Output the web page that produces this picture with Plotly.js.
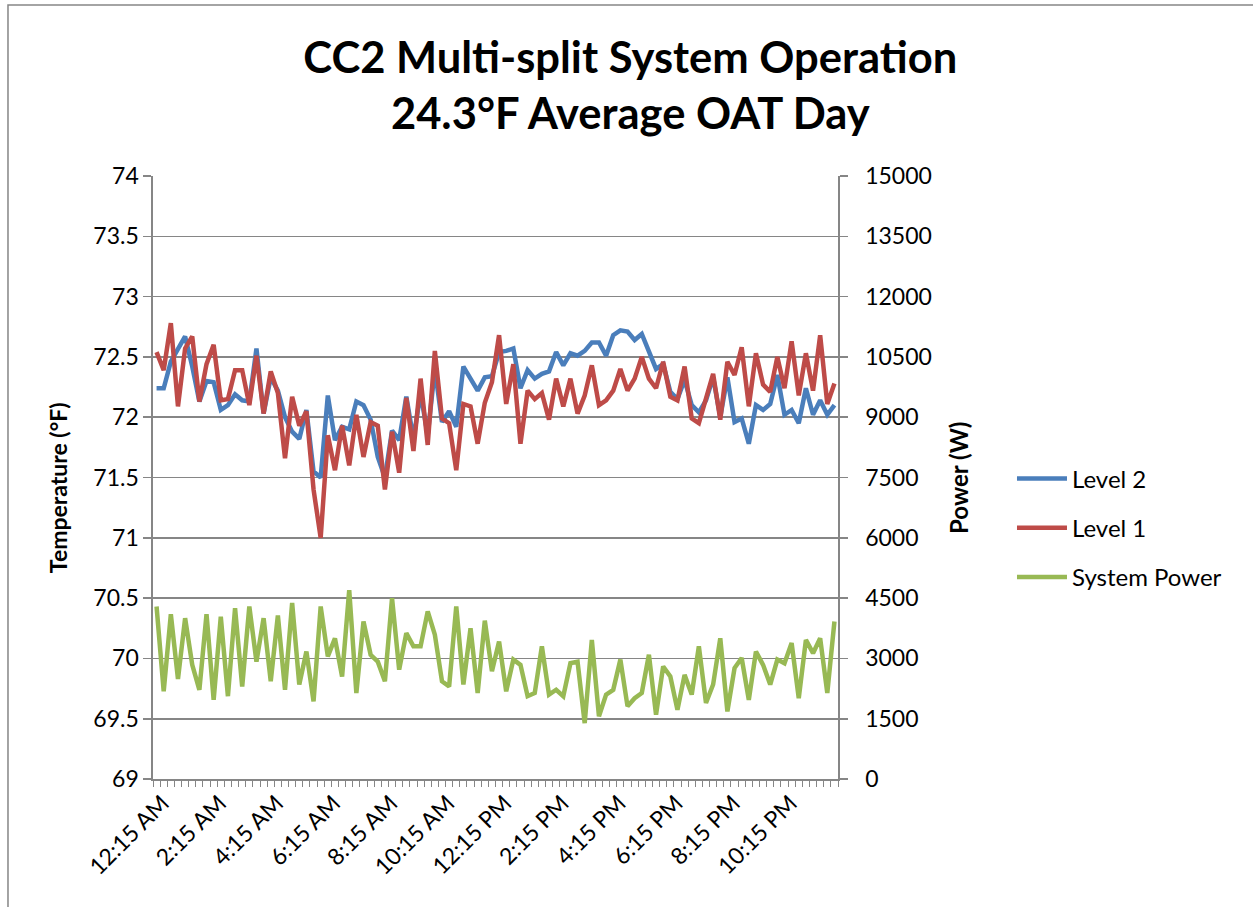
<!DOCTYPE html>
<html>
<head>
<meta charset="utf-8">
<script src="https://cdn.plot.ly/plotly-3.0.1.min.js"></script>
<style>
  html, body { margin: 0; padding: 0; background: #fff; }
  #chart { width: 1253px; height: 907px; }
</style>
</head>
<body>
<div id="chart"></div>
<script>
// ---- Data ----
const categories = [
  "12:15 AM","12:30 AM","12:45 AM","1:00 AM","1:15 AM","1:30 AM","1:45 AM","2:00 AM",
  "2:15 AM","2:30 AM","2:45 AM","3:00 AM","3:15 AM","3:30 AM","3:45 AM","4:00 AM",
  "4:15 AM","4:30 AM","4:45 AM","5:00 AM","5:15 AM","5:30 AM","5:45 AM","6:00 AM",
  "6:15 AM","6:30 AM","6:45 AM","7:00 AM","7:15 AM","7:30 AM","7:45 AM","8:00 AM",
  "8:15 AM","8:30 AM","8:45 AM","9:00 AM","9:15 AM","9:30 AM","9:45 AM","10:00 AM",
  "10:15 AM","10:30 AM","10:45 AM","11:00 AM","11:15 AM","11:30 AM","11:45 AM","12:00 PM",
  "12:15 PM","12:30 PM","12:45 PM","1:00 PM","1:15 PM","1:30 PM","1:45 PM","2:00 PM",
  "2:15 PM","2:30 PM","2:45 PM","3:00 PM","3:15 PM","3:30 PM","3:45 PM","4:00 PM",
  "4:15 PM","4:30 PM","4:45 PM","5:00 PM","5:15 PM","5:30 PM","5:45 PM","6:00 PM",
  "6:15 PM","6:30 PM","6:45 PM","7:00 PM","7:15 PM","7:30 PM","7:45 PM","8:00 PM",
  "8:15 PM","8:30 PM","8:45 PM","9:00 PM","9:15 PM","9:30 PM","9:45 PM","10:00 PM",
  "10:15 PM","10:30 PM","10:45 PM","11:00 PM","11:15 PM","11:30 PM","11:45 PM","12:00 AM"
];

const tickLabels = [
  "12:15 AM","2:15 AM","4:15 AM","6:15 AM","8:15 AM","10:15 AM",
  "12:15 PM","2:15 PM","4:15 PM","6:15 PM","8:15 PM","10:15 PM"
];

const level2 = [
  72.24,72.24,72.46,72.57,72.67,72.42,72.13,72.30,72.29,72.06,72.10,72.19,72.14,72.13,72.57,72.03,
  72.33,72.22,72.00,71.88,71.82,72.06,71.55,71.50,72.18,71.81,71.92,71.90,72.13,72.10,71.98,71.67,
  71.50,71.89,71.81,72.17,71.82,72.20,71.85,72.40,71.96,72.05,71.92,72.42,72.32,72.22,72.33,72.34,
  72.54,72.55,72.57,72.24,72.39,72.32,72.36,72.38,72.54,72.43,72.53,72.51,72.55,72.62,72.62,72.51,
  72.68,72.72,72.71,72.64,72.69,72.55,72.40,72.44,72.21,72.15,72.31,72.10,72.04,72.14,72.33,72.00,
  72.33,71.96,71.99,71.78,72.10,72.06,72.11,72.35,72.02,72.06,71.95,72.24,72.02,72.14,72.02,72.10
];

const level1 = [
  72.54,72.39,72.78,72.09,72.57,72.67,72.13,72.44,72.60,72.14,72.15,72.39,72.39,72.10,72.51,72.03,
  72.38,72.20,71.66,72.17,71.93,72.05,71.40,71.00,71.85,71.56,71.93,71.60,72.02,71.67,71.96,71.93,
  71.40,71.88,71.54,72.16,71.72,72.32,71.77,72.55,71.99,71.95,71.56,72.11,72.09,71.78,72.12,72.29,
  72.68,72.11,72.44,71.78,72.22,72.15,72.20,71.98,72.32,72.09,72.32,72.03,72.18,72.43,72.10,72.14,
  72.22,72.40,72.22,72.32,72.50,72.32,72.24,72.46,72.17,72.14,72.42,71.99,71.95,72.14,72.36,71.98,
  72.46,72.35,72.58,72.09,72.53,72.27,72.21,72.50,72.24,72.63,72.18,72.53,72.22,72.68,72.11,72.28
];

const systemPower = [
  4290,2180,4100,2490,4000,2840,2220,4100,1970,4040,2060,4250,2300,4290,2920,4000,
  2430,4070,2220,4380,2350,3170,1930,4290,3050,3500,2550,4700,2140,3920,3090,2920,
  2430,4500,2720,3630,3300,3300,4170,3590,2430,2300,4290,2350,3750,2140,3940,2680,
  3420,2180,2970,2840,2060,2140,3300,2100,2220,2060,2880,2920,1390,3460,1560,2100,
  2220,2970,1810,2010,2140,3090,1600,2800,2550,1720,2590,2100,3300,1890,2350,3500,
  1680,2760,3010,1970,3170,2840,2350,2970,2880,3380,2010,3460,3130,3500,2140,3920
];

// ---- Styling ----
const FONT = "Lato, 'Open Sans', sans-serif";
const GRID = "#868686";
const TICKSIZE = 23;

const traces = [
  { x: categories, y: level2, name: "Level 2", type: "scatter", mode: "lines",
    line: { color: "#4A7EBB", width: 4.5 }, legendgroup: "a" },
  { x: categories, y: level1, name: "Level 1", type: "scatter", mode: "lines",
    line: { color: "#BE4B48", width: 4.5 }, legendgroup: "b" },
  { x: categories, y: systemPower, name: "System Power", type: "scatter", mode: "lines",
    yaxis: "y2", line: { color: "#98B954", width: 4.5 }, legendgroup: "c" }
];

const layout = {
  width: 1253, height: 907,
  margin: { l: 153, r: 415, t: 176, b: 128 },
  paper_bgcolor: "#fff", plot_bgcolor: "#fff",
  font: { family: FONT, color: "#000", size: TICKSIZE },
  title: {
    text: "CC2 Multi-split System Operation<br>24.3°F Average OAT Day",
    font: { family: FONT, size: 43.5, weight: 700, color: "#000" },
    x: 0.503, xanchor: "center", xref: "container",
    y: 0.92, yanchor: "middle", yref: "container"
  },
  xaxis: {
    type: "category",
    range: [-0.5, categories.length - 0.5],
    tickmode: "array",
    tickvals: categories,
    ticktext: categories.map(c => tickLabels.includes(c) ? c : ""),
    tickson: "boundaries",
    ticks: "outside", ticklen: 6, tickwidth: 1, tickcolor: GRID,
    tickangle: -45,
    ticklabelshift: 6,
    showgrid: false, zeroline: false,
    showline: true, linecolor: GRID, linewidth: 1.6,
    tickfont: { family: FONT, size: TICKSIZE, color: "#000" },
    fixedrange: true
  },
  yaxis: {
    range: [69, 74], dtick: 0.5, tick0: 69,
    ticks: "outside", ticklen: 8, tickcolor: GRID, tickwidth: 1.6,
    showgrid: true, gridcolor: GRID, gridwidth: 1.6,
    zeroline: false,
    showline: true, linecolor: GRID, linewidth: 1.6,
    tickfont: { family: FONT, size: TICKSIZE, color: "#000" },
    ticklabelstandoff: 0,
    fixedrange: true
  },
  yaxis2: {
    overlaying: "y", side: "right",
    range: [0, 15000], dtick: 1500, tick0: 0, tickformat: "d",
    ticks: "outside", ticklen: 8, tickcolor: GRID, tickwidth: 1.6,
    showgrid: false, zeroline: false,
    showline: true, linecolor: GRID, linewidth: 1.6,
    tickfont: { family: FONT, size: TICKSIZE, color: "#000" },
    ticklabelstandoff: 13,
    fixedrange: true
  },
  legend: {
    x: 1.254, xanchor: "left", y: 0.535, yanchor: "top",
    font: { family: FONT, size: 24, color: "#000" },
    traceorder: "grouped", tracegroupgap: 15,
    itemwidth: 50, bgcolor: "rgba(0,0,0,0)"
  },
  annotations: [
    { text: "Temperature (°F)", xref: "paper", yref: "paper", x: -0.1387, y: 0.484,
      textangle: -90, showarrow: false, xanchor: "center", yanchor: "middle",
      font: { family: FONT, size: 23, weight: 700, color: "#000" } },
    { text: "Power (W)", xref: "paper", yref: "paper", x: 1.175, y: 0.499,
      textangle: -90, showarrow: false, xanchor: "center", yanchor: "middle",
      font: { family: FONT, size: 24, weight: 700, color: "#000" } }
  ],
  shapes: [
    { type: "rect", xref: "paper", yref: "paper", x0: -0.2117, x1: 1.8, y0: -0.5, y1: 1.2836,
      line: { color: GRID, width: 1.5 }, fillcolor: "rgba(0,0,0,0)", layer: "below" }
  ],
  showlegend: true
};

Plotly.newPlot("chart", traces, layout, { displayModeBar: false, staticPlot: true });
</script>
</body>
</html>
